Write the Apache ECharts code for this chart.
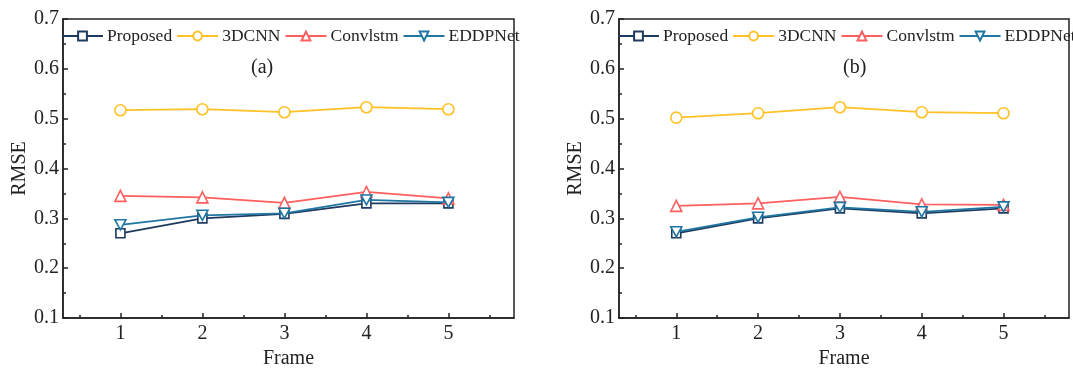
<!DOCTYPE html>
<html><head><meta charset="utf-8">
<script src="https://cdn.jsdelivr.net/npm/echarts@6/dist/echarts.min.js"></script>
<style>html,body{margin:0;padding:0;background:#fff}#c{width:1073px;height:370px}</style>
</head><body><div id="c"></div>
<script>
const frames = [1, 2, 3, 4, 5];
const seriesNames = ['Proposed', '3DCNN', 'Convlstm', 'EDDPNet'];
// Panel (a)
const proposedA = [0.270, 0.300, 0.309, 0.330, 0.330];
const cnn3dA    = [0.517, 0.519, 0.513, 0.523, 0.519];
const convlstmA = [0.345, 0.342, 0.331, 0.353, 0.340];
const eddpnetA  = [0.287, 0.306, 0.310, 0.337, 0.332];
// Panel (b)
const proposedB = [0.270, 0.300, 0.320, 0.310, 0.320];
const cnn3dB    = [0.502, 0.511, 0.523, 0.513, 0.511];
const convlstmB = [0.325, 0.330, 0.343, 0.328, 0.327];
const eddpnetB  = [0.273, 0.302, 0.322, 0.313, 0.323];
const yTicks = [0.1, 0.2, 0.3, 0.4, 0.5, 0.6, 0.7];
const xMinorTicks = [0.5, 1.5, 2.5, 3.5, 4.5, 5.5];
const panelLabels = ['(a)', '(b)'];

const FONT = '"Liberation Serif", "Times New Roman", serif';
const colors = ['#1f3a5f', '#FFC125', '#FF5F5F', '#1f76a3'];
const symbols = ['rect', 'circle', 'triangle', 'path://M0,0 L10,0 L5,9 Z'];
const symSizes = [9, 11, 11, [11, 10]];
const dataSets = [[proposedA, cnn3dA, convlstmA, eddpnetA], [proposedB, cnn3dB, convlstmB, eddpnetB]];

const grids = [
  {left: 63, right: 559, top: 19, bottom: 52, show: true, borderColor: '#222', borderWidth: 1.5, outerBoundsMode: 'none', containLabel: false},
  {left: 619, right: 4, top: 19, bottom: 52, show: true, borderColor: '#222', borderWidth: 1.5, outerBoundsMode: 'none', containLabel: false}
];
const xAxes = [], yAxes = [], series = [], legends = [], graphics = [];
grids.forEach((g, gi) => {
  xAxes.push({
    type: 'value', gridIndex: gi, min: 0.3, max: 5.8,
    name: 'Frame', nameLocation: 'middle', nameGap: 30,
    nameTextStyle: {fontFamily: FONT, fontSize: 20, color: '#222'},
    axisLine: {show: true, lineStyle: {color: '#222', width: 1.5}},
    axisTick: {show: true, inside: true, length: 5, customValues: frames, lineStyle: {color: '#222', width: 1.5}},
    axisLabel: {customValues: frames, fontFamily: FONT, fontSize: 20, color: '#222', margin: 6},
    splitLine: {show: false}
  });
  xAxes.push({
    type: 'value', gridIndex: gi, min: 0.3, max: 5.8, position: 'bottom',
    axisLine: {show: false},
    axisTick: {show: true, inside: true, length: 3, customValues: xMinorTicks, lineStyle: {color: '#222', width: 1.5}},
    axisLabel: {show: false}, splitLine: {show: false}
  });
  yAxes.push({
    type: 'value', gridIndex: gi, min: 0.1, max: 0.7, interval: 0.1,
    name: 'RMSE', nameLocation: 'middle', nameGap: 33,
    nameTextStyle: {fontFamily: FONT, fontSize: 20, color: '#222'},
    axisLine: {show: true, lineStyle: {color: '#222', width: 1.5}},
    axisTick: {show: true, inside: true, length: 5, lineStyle: {color: '#222', width: 1.5}},
    minorTick: {show: true, splitNumber: 2, length: 3, lineStyle: {color: '#222', width: 1.5}},
    axisLabel: {fontFamily: FONT, fontSize: 20, color: '#222', margin: 4, formatter: v => v.toFixed(1)},
    splitLine: {show: false}
  });
  seriesNames.forEach((n, si) => {
    series.push({
      name: n, type: 'line', xAxisIndex: gi * 2, yAxisIndex: gi,
      data: frames.map((f, i) => [f, dataSets[gi][si][i]]),
      symbol: symbols[si], symbolSize: symSizes[si], showAllSymbol: true,
      lineStyle: {color: colors[si], width: 1.8},
      itemStyle: {color: '#fff', borderColor: colors[si], borderWidth: 1.6},
      z: 2 + si, animation: false
    });
  });
  legends.push({
    left: g.left - 2, top: 27, width: 700, itemWidth: 41, itemHeight: 11, itemGap: 4,
    data: seriesNames, textStyle: {fontFamily: FONT, fontSize: 17.5, color: '#222', padding: [0, 0, 0, -1]},
    padding: 0
  });
});
graphics.push({type: 'text', left: 251, top: 58, style: {text: panelLabels[0], font: '20px ' + FONT, fill: '#222'}});
graphics.push({type: 'text', left: 843, top: 58, style: {text: panelLabels[1], font: '20px ' + FONT, fill: '#222'}});

const chart = echarts.init(document.getElementById('c'), null, {renderer: 'canvas'});
chart.setOption({
  backgroundColor: '#fff', animation: false,
  grid: grids, xAxis: xAxes, yAxis: yAxes, series: series, legend: legends, graphic: graphics
});
</script></body></html>
